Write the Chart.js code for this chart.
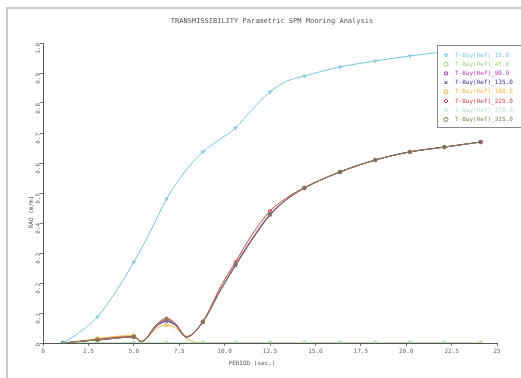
<!DOCTYPE html>
<html><head><meta charset="utf-8">
<script src="https://cdn.jsdelivr.net/npm/chart.js@4/dist/chart.umd.min.js"></script>
<style>
html,body{margin:0;padding:0;background:#fff;}
#wrap{position:relative;width:521px;height:378px;overflow:hidden;}
#frame{position:absolute;left:6px;top:7px;width:530px;height:380px;border-left:2px solid #c8c8c8;border-top:2px solid #c8c8c8;pointer-events:none;}
canvas{position:absolute;left:0;top:0;}
</style></head><body>
<div id="wrap"><canvas id="c" width="521" height="378"></canvas><div id="frame"></div></div>
<script>
// ---- texts ----
const chartTitle = 'TRANSMISSIBILITY Parametric SPM Mooring Analysis';
const xTitle = 'PERIOD (sec.)';
const yTitle = 'RAO (m/m)';

// ---- ticks ----
const xTickValues = [0, 2.5, 5, 7.5, 10, 12.5, 15, 17.5, 20, 22.5, 25];
const xTickLabels = ['0', '2.5', '5.0', '7.5', '10.0', '12.5', '15.0', '17.5', '20.0', '22.5', '25'];
const yTickValues = [0, 0.1, 0.2, 0.3, 0.4, 0.5, 0.6, 0.7, 0.8, 0.9, 1.0];
const yTickLabels = ['0', '0.1', '0.2', '0.3', '0.4', '0.5', '0.6', '0.7', '0.8', '0.9', '1.0'];

// ---- series names ----
const seriesNames = ['T-Bay(Ref)_15.0', 'T-Bay(Ref)_45.0', 'T-Bay(Ref)_90.0', 'T-Bay(Ref)_135.0',
                     'T-Bay(Ref)_180.0', 'T-Bay(Ref)_225.0', 'T-Bay(Ref)_270.0', 'T-Bay(Ref)_315.0'];

// periods where the markers are drawn
const markerPeriods = [1.1, 3.0, 5.0, 6.8, 8.8, 10.6, 12.5, 14.4, 16.35, 18.3, 20.2, 22.1, 24.1];

// series 1 (upper curve)
const periodsUpper = [1.1, 2.0, 3.0, 4.0, 5.0, 5.9, 6.8, 7.8, 8.8, 9.7, 10.6, 11.5, 12.5, 13.4, 14.4, 16.35, 18.3, 20.2, 22.1, 24.1];
const raoS1 = [0, 0.035, 0.087, 0.17, 0.27, 0.37, 0.48, 0.57, 0.637, 0.677, 0.717, 0.777, 0.837, 0.872, 0.89, 0.92, 0.94, 0.957, 0.97, 0.983];

// lower curve family
const periodsLower = [1.1, 2.5, 3.0, 5.0, 5.4, 6.3, 6.8, 7.3, 7.9, 8.8, 9.8, 10.6, 11.5, 12.5, 13.4, 14.4, 16.35, 18.3, 20.2, 22.1, 24.1];
const raoS3 = [0, 0.008, 0.01, 0.02, 0.004, 0.06, 0.075, 0.06, 0.02, 0.07, 0.18, 0.26, 0.345, 0.428, 0.478, 0.517, 0.57, 0.61, 0.637, 0.653, 0.67];
const raoS4 = [0, 0.008, 0.01, 0.02, 0.004, 0.058, 0.072, 0.058, 0.02, 0.07, 0.178, 0.258, 0.343, 0.426, 0.477, 0.517, 0.57, 0.61, 0.637, 0.653, 0.67];
const raoS6 = [0, 0.008, 0.012, 0.022, 0.005, 0.065, 0.082, 0.065, 0.022, 0.072, 0.19, 0.27, 0.36, 0.44, 0.483, 0.518, 0.57, 0.61, 0.637, 0.653, 0.67];
const raoS8 = [0, 0.008, 0.01, 0.02, 0.004, 0.062, 0.078, 0.062, 0.02, 0.07, 0.18, 0.262, 0.347, 0.43, 0.478, 0.517, 0.57, 0.61, 0.637, 0.653, 0.67];

// near-zero series
const periodsS5 = [1.1, 2.5, 3.0, 5.0, 5.4, 6.3, 6.8, 7.3, 7.9, 8.8, 10.6, 12.5, 14.4, 16.35, 18.3, 20.2, 22.1, 24.1];
const raoS5 = [0, 0.01, 0.015, 0.025, 0.006, 0.05, 0.06, 0.05, 0.015, 0, 0, 0, 0, 0, 0, 0, 0, 0];
const raoS2 = [0, 0, 0, 0, 0, 0, 0, 0, 0, 0, 0, 0, 0];
const raoS7 = [0, 0, 0, 0, 0, 0, 0, 0, 0, 0, 0, 0, 0];

const seriesColors = ['#78c6da', '#9fd27e', '#b43cb4', '#33339a', '#e8b43c', '#d83c3c', '#b4e0cc', '#6f8a55'];
const seriesStyles = ['triangle', 'circle', 'rect', 'crossRot', 'circle', 'rectRot', 'rectRot', 'circle'];
const seriesRot = [180, 0, 0, 0, 0, 0, 0, 0];
const drawOrder = [0, 6, 4, 5, 7, 3, 2, 1];

function pts(xs, ys) { return xs.map((x, i) => ({ x: x, y: ys[i] })); }
const seriesData = [
  pts(periodsUpper, raoS1),
  pts(markerPeriods, raoS2),
  pts(periodsLower, raoS3),
  pts(periodsLower, raoS4),
  pts(periodsS5, raoS5),
  pts(periodsLower, raoS6),
  pts(markerPeriods, raoS7),
  pts(periodsLower, raoS8)
];

const datasets = seriesData.map((d, i) => ({
  label: seriesNames[i],
  data: d,
  borderColor: seriesColors[i],
  backgroundColor: seriesColors[i],
  borderWidth: 1,
  showLine: true,
  cubicInterpolationMode: 'monotone',
  pointStyle: seriesStyles[i],
  rotation: seriesRot[i],
  pointRadius: d.map(p => markerPeriods.includes(p.x) ? 1.8 : 0),
  pointBackgroundColor: 'rgba(255,255,255,0)',
  pointBorderColor: seriesColors[i],
  pointBorderWidth: 1,
  order: drawOrder[i]
}));

const decorPlugin = {
  id: 'decor',
  afterDatasetsDraw(chart) {
    const ctx = chart.ctx;
    ctx.save();
    // title
    ctx.fillStyle = '#555';
    ctx.font = '7px "DejaVu Sans Mono"';
    ctx.textAlign = 'center';
    ctx.textBaseline = 'middle';
    ctx.fillText(chartTitle, 272, 21);
    // x title
    ctx.font = '6px "DejaVu Sans Mono"';
    ctx.fillText(xTitle, 252, 363);
    // y title
    ctx.save();
    ctx.translate(31, 212);
    ctx.rotate(-Math.PI / 2);
    ctx.fillText(yTitle, 0, 0);
    ctx.restore();
    // legend box
    const bx = 437, by = 45, bw = 100, bh = 82;
    ctx.fillStyle = '#fff';
    ctx.fillRect(bx, by, bw, bh);
    ctx.strokeStyle = '#888';
    ctx.lineWidth = 1;
    ctx.strokeRect(bx + 0.5, by + 0.5, bw, bh);
    ctx.textAlign = 'left';
    ctx.font = '6px "DejaVu Sans Mono"';
    chart.data.datasets.forEach((ds, i) => {
      const y = 55 + i * 9.2;
      ctx.save();
      ctx.strokeStyle = ds.borderColor;
      ctx.fillStyle = 'rgba(255,255,255,0)';
      ctx.lineWidth = 1;
      Chart.helpers.drawPoint(ctx, { pointStyle: ds.pointStyle, rotation: ds.rotation, radius: 2, borderWidth: 1 }, 446, y);
      ctx.restore();
      ctx.fillStyle = ds.borderColor;
      ctx.fillText(ds.label, 455, y);
    });
    ctx.restore();
  }
};

new Chart(document.getElementById('c'), {
  type: 'scatter',
  data: { datasets: datasets },
  options: {
    responsive: false,
    animation: false,
    layout: { padding: { left: 0, right: 24, top: 43, bottom: 0 } },
    plugins: { legend: { display: false }, title: { display: false }, tooltip: { enabled: false } },
    scales: {
      x: {
        type: 'linear', min: 0, max: 25,
        afterBuildTicks: s => { s.ticks = xTickValues.map(v => ({ value: v })); },
        afterFit: s => { s.height = 35; },
        ticks: { callback: (v, i) => xTickLabels[i], font: { size: 6, family: 'DejaVu Sans Mono' }, color: '#666', padding: 2, maxRotation: 0, minRotation: 0 },
        grid: { display: true, drawOnChartArea: false, tickLength: 3, color: '#777' },
        border: { color: '#555', width: 1 }
      },
      y: {
        type: 'linear', min: 0, max: 1,
        afterBuildTicks: s => { s.ticks = yTickValues.map(v => ({ value: v })); },
        afterFit: s => { s.width = 43; },
        ticks: { callback: (v, i) => yTickLabels[i], font: { size: 6, family: 'DejaVu Sans Mono' }, color: '#666', padding: 2, minRotation: 90, maxRotation: 90 },
        grid: { display: true, drawOnChartArea: false, tickLength: 3, color: '#777' },
        border: { color: '#555', width: 1 }
      }
    }
  },
  plugins: [decorPlugin]
});
</script>
</body></html>
